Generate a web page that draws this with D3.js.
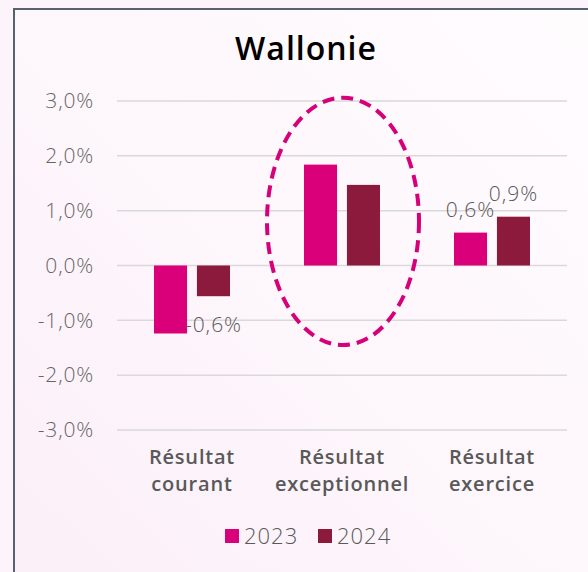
<!DOCTYPE html>
<html>
<head>
<meta charset="utf-8">
<script src="https://cdn.jsdelivr.net/npm/d3@7"></script>
<style>
  html, body { margin: 0; padding: 0; background: #fdf4fb; }
  svg { display: block; }
</style>
</head>
<body>
<svg id="chart"></svg>
<script>
const width = 588;
const height = 572;

const categories = [["Résultat", "courant"], ["Résultat", "exceptionnel"], ["Résultat", "exercice"]];
const years = ["2023", "2024"];
const values2023 = [-1.24, 1.84, 0.6];
const values2024 = [-0.56, 1.47, 0.89];
// which bars carry a data label in the original
const showLabel2023 = [false, false, true];
const showLabel2024 = [true, false, true];
const yTicks = [-3, -2, -1, 0, 1, 2, 3];
const colors = ["#da0079", "#8b1a3c"];
const highlighted = 1; // "Résultat exceptionnel" is circled

const svg = d3.select("#chart")
    .attr("width", width)
    .attr("height", height);

const defs = svg.append("defs");
const grad = defs.append("linearGradient")
    .attr("id", "bg")
    .attr("x1", "100%").attr("y1", "0%")
    .attr("x2", "0%").attr("y2", "100%");
grad.append("stop").attr("offset", "0%").attr("stop-color", "#fffcfe");
grad.append("stop").attr("offset", "55%").attr("stop-color", "#fdf6fb");
grad.append("stop").attr("offset", "100%").attr("stop-color", "#fbeef8");

svg.append("rect")
    .attr("width", width).attr("height", height)
    .attr("fill", "#fdf4fb");

// frame
svg.append("rect")
    .attr("x", 14).attr("y", 9)
    .attr("width", 620).attr("height", 620)
    .attr("fill", "url(#bg)")
    .attr("stroke", "#56626e")
    .attr("stroke-width", 2);

const table = categories.map(function(c, i) {
    return {
        name: c.join(" "),
        lines: c,
        bars: [
            {year: years[0], value: values2023[i], label: showLabel2023[i]},
            {year: years[1], value: values2024[i], label: showLabel2024[i]}
        ]
    };
});

const x = d3.scaleBand()
    .domain(table.map(d => d.name))
    .range([117, 567]);

const x1 = d3.scaleBand()
    .domain(years)
    .range([-38, 38])
    .paddingInner(0.23);

const y = d3.scaleLinear()
    .domain([-3, 3])
    .range([430, 101]);

const color = d3.scaleOrdinal().domain(years).range(colors);
const fmt = v => d3.format(".1f")(v).replace(".", ",").replace("−", "-") + "%";

// title
svg.append("text")
    .attr("x", 306).attr("y", 60)
    .attr("text-anchor", "middle")
    .style("font-family", "Open Sans")
    .style("font-weight", 600)
    .style("font-size", "32px")
    .style("letter-spacing", "1px")
    .style("fill", "#000")
    .text("Wallonie");

// grid
svg.append("g")
    .attr("class", "grid")
    .selectAll("line")
    .data(yTicks)
    .enter().append("line")
    .attr("x1", 117).attr("x2", 567)
    .attr("y1", d => y(d)).attr("y2", d => y(d))
    .style("stroke", "#d9d9d9")
    .style("stroke-width", 1.5);

// y axis labels
const yAxis = svg.append("g")
    .attr("transform", "translate(100,0)")
    .call(d3.axisLeft(y).tickValues(yTicks).tickSize(0).tickPadding(6).tickFormat(fmt));
yAxis.select(".domain").remove();
yAxis.selectAll("text")
    .style("font-family", "Open Sans")
    .style("font-weight", 300)
    .style("font-size", "21px")
    .style("letter-spacing", "0.8px")
    .style("fill", "#666");

// bars
const groups = svg.append("g")
    .selectAll("g")
    .data(table)
    .enter().append("g")
    .attr("transform", d => "translate(" + (x(d.name) + x.bandwidth() / 2) + ",0)");

groups.selectAll("rect")
    .data(d => d.bars)
    .enter().append("rect")
    .attr("x", d => x1(d.year))
    .attr("width", x1.bandwidth())
    .attr("y", d => y(Math.max(0, d.value)))
    .attr("height", d => Math.abs(y(d.value) - y(0)))
    .style("fill", d => color(d.year));

groups.selectAll("text.val")
    .data(d => d.bars.filter(b => b.label))
    .enter().append("text")
    .attr("class", "val")
    .attr("x", d => x1(d.year) + x1.bandwidth() / 2)
    .attr("y", d => d.value >= 0 ? y(d.value) - 16 : y(d.value) + 36)
    .attr("text-anchor", "middle")
    .style("font-family", "Open Sans")
    .style("font-weight", 300)
    .style("font-size", "21px")
    .style("letter-spacing", "1px")
    .style("fill", "#595959")
    .text(d => fmt(d.value));

// category labels
groups.append("text")
    .attr("y", 464)
    .attr("text-anchor", "middle")
    .style("font-family", "Open Sans")
    .style("font-weight", 600)
    .style("font-size", "20px")
    .style("letter-spacing", "0.8px")
    .style("fill", "#595959")
    .selectAll("tspan")
    .data(d => d.lines)
    .enter().append("tspan")
    .attr("x", 0)
    .attr("dy", (d, i) => i === 0 ? 0 : 27)
    .text(d => d);

// highlight ellipse around the circled category
const hc = table[highlighted];
svg.append("ellipse")
    .attr("cx", x(hc.name) + x.bandwidth() / 2 + 1)
    .attr("cy", (y(3.06) + y(-1.45)) / 2)
    .attr("rx", 76)
    .attr("ry", (y(-1.45) - y(3.06)) / 2)
    .style("fill", "none")
    .style("stroke", "#d6007a")
    .style("stroke-width", 4)
    .style("stroke-dasharray", "12 7");

// legend
const legend = svg.append("g")
    .selectAll("g")
    .data(years)
    .enter().append("g")
    .attr("transform", (d, i) => "translate(" + (225 + i * 93) + ",529)");

legend.append("rect")
    .attr("width", 14).attr("height", 14)
    .style("fill", d => color(d));

legend.append("text")
    .attr("x", 19).attr("y", 15)
    .style("font-family", "Open Sans")
    .style("font-weight", 300)
    .style("font-size", "22px")
    .style("letter-spacing", "1px")
    .style("fill", "#595959")
    .text(d => d);
</script>
</body>
</html>
